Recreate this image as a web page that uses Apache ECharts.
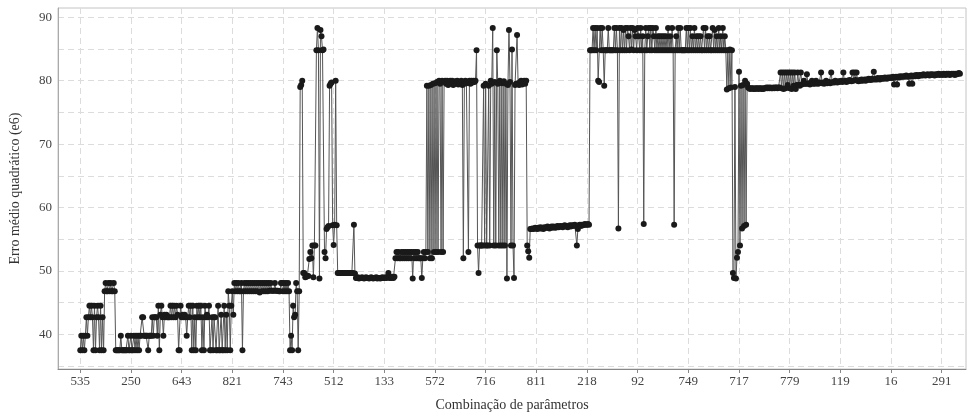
<!DOCTYPE html>
<html>
<head>
<meta charset="utf-8">
<script src="https://cdn.jsdelivr.net/npm/echarts@6/dist/echarts.min.js"></script>
<style>
html,body{margin:0;padding:0;background:#fff;}
#chart{width:977px;height:417px;}
</style>
</head>
<body>
<div id="chart"></div>
<script>
// Tick labels (parameter combination ids), one every 50 points
const tickLabels = ['535','250','643','821','743','512','133','572','716','811','218','92','749','717','779','119','16','291'];
const tickStep = 50;
const yLabelValues = [40, 50, 60, 70, 80, 90];
const yGridValues = [35, 40, 45, 50, 55, 60, 65, 70, 75, 80, 85, 90];

// Mean squared error (e6) for each parameter combination, in plotted order
const mse = [
// 0-49
37.5,39.8,37.5,39.8,37.5,39.8,42.7,39.8,42.7,44.5,
42.7,44.5,42.7,37.5,44.5,37.5,42.7,44.5,42.7,37.5,
44.5,37.5,42.7,37.5,46.8,48.1,46.8,46.8,48.1,46.8,
48.1,46.8,46.8,48.1,46.8,37.5,37.5,37.5,37.5,37.5,
39.8,37.5,37.5,37.5,37.5,37.5,37.5,39.8,37.5,37.5,
// 50-99
39.8,37.5,37.5,39.8,37.5,39.8,37.5,39.8,37.5,39.8,
39.8,42.7,42.7,39.8,39.8,39.8,39.8,37.5,39.8,39.8,
39.8,42.7,39.8,42.7,42.7,42.7,39.8,44.5,37.5,43.1,
44.5,42.7,39.8,43.1,42.7,43.1,42.7,42.7,42.7,44.5,
42.7,44.5,42.7,44.5,42.7,44.5,43.1,37.5,37.5,44.5,
// 100-149
42.7,43.1,42.7,43.1,42.7,39.8,42.7,44.5,42.7,44.5,
37.5,44.5,37.5,42.7,37.5,44.5,42.7,44.5,42.7,44.5,
37.5,42.7,37.5,44.5,42.7,43.1,42.7,44.5,37.5,37.5,
42.7,37.5,42.7,42.7,37.5,37.5,44.5,37.5,37.5,43.1,
37.5,37.5,44.5,37.5,43.1,37.5,46.8,44.5,37.5,44.5,
// 150-199
46.8,43.1,48.1,46.8,48.1,46.8,48.1,46.8,46.8,48.1,
37.5,46.8,48.1,46.8,48.1,46.8,48.1,46.8,48.1,46.8,
48.1,46.8,48.1,46.8,48.1,46.8,48.1,46.6,48.1,46.8,
48.1,46.8,48.1,46.8,48.1,46.8,48.1,46.9,48.1,46.9,
46.9,46.9,48.1,46.9,46.9,46.9,46.8,46.8,48.1,48.1,
// 200-249
46.8,48.1,46.8,48.1,46.8,48.1,46.8,37.5,39.8,37.5,
44.5,42.7,43.1,48.1,46.8,37.5,46.8,79.0,79.3,80.0,
49.7,49.7,49.0,49.1,49.2,49.2,51.9,53.0,52.0,54.0,
49.0,54.0,54.0,84.8,88.3,84.8,48.8,88.0,87.0,84.8,
84.9,53.0,52.0,56.6,56.9,57.1,79.2,79.5,79.7,57.2,
// 250-299
54.1,57.3,80.0,57.2,49.7,49.7,49.7,49.7,49.7,49.7,
49.7,49.7,49.7,49.7,49.7,49.7,49.7,49.7,49.7,49.7,
57.3,49.6,48.9,48.9,49.0,48.8,48.9,48.9,49.0,48.9,
48.8,48.9,49.0,48.9,48.9,48.8,48.9,49.0,48.9,48.8,
48.9,48.9,49.0,48.8,48.9,48.9,48.8,48.9,49.0,48.9,
// 300-349
48.9,49.0,48.9,49.0,49.7,48.9,49.0,48.9,49.1,48.9,
49.1,52.0,53.0,52.0,53.0,52.0,52.0,53.0,52.0,53.0,
52.0,53.0,52.0,53.0,52.0,53.0,52.0,53.0,48.8,53.0,
52.0,53.0,52.0,53.0,52.0,52.0,52.0,48.9,52.0,53.0,
52.0,53.0,79.2,53.0,79.2,52.0,79.3,52.0,79.5,53.0,
// 350-399
79.6,53.0,79.8,53.0,80.0,79.5,53.0,80.0,53.0,79.8,
80.0,79.5,80.0,79.3,79.8,80.0,79.5,80.0,79.3,79.5,
79.9,79.6,80.0,79.4,79.5,79.8,80.0,79.3,52.0,79.5,
80.0,79.6,79.8,53.0,80.0,79.5,80.0,79.7,80.0,79.8,
80.0,84.8,54.0,49.7,54.0,54.0,54.0,54.0,79.2,54.0,
// 400-449
79.5,54.0,54.0,79.2,54.0,80.0,79.5,88.3,54.0,79.8,
54.0,84.8,79.5,54.0,80.0,54.0,79.6,54.0,79.9,54.0,
79.5,48.8,79.3,88.0,79.8,54.0,84.9,54.0,48.9,79.3,
79.5,87.2,79.6,79.3,79.8,80.0,79.4,79.8,80.0,79.5,
80.0,54.0,53.1,52.1,56.6,56.6,56.7,56.6,56.7,56.8,
// 450-499
56.7,56.6,56.8,56.7,56.9,56.7,56.8,56.6,56.9,56.8,
56.8,57.0,56.8,56.7,56.9,57.0,56.8,57.0,56.9,56.8,
57.0,57.1,56.9,57.0,57.1,57.0,56.9,57.1,57.2,57.0,
57.1,56.9,57.1,57.2,57.0,57.2,57.1,57.2,57.3,57.1,
54.0,56.6,57.2,57.3,57.1,57.3,57.2,57.3,57.4,57.3,
// 500-549
57.3,57.4,57.3,84.8,84.8,84.8,88.3,84.8,88.3,84.8,
88.3,80.0,79.8,88.3,84.8,88.3,84.8,79.2,84.8,84.8,
84.8,88.3,84.8,84.8,84.8,84.8,84.8,88.3,84.8,88.3,
84.8,56.7,88.3,84.8,88.3,84.8,88.0,84.8,88.3,84.8,
88.3,87.0,84.8,88.3,84.9,88.3,84.8,88.0,87.0,84.8,
// 550-599
88.3,87.0,84.8,88.3,84.8,87.0,57.4,84.8,88.3,84.8,
87.0,88.3,84.8,88.3,84.8,88.3,87.0,84.8,88.3,84.8,
87.0,84.8,87.0,84.8,87.0,84.8,87.0,84.8,87.0,84.8,
88.3,84.8,87.0,84.8,88.3,84.8,57.3,84.8,87.0,84.8,
88.3,84.8,88.3,84.8,84.8,84.8,84.8,84.8,88.3,84.8,
// 600-649
88.3,84.8,88.3,84.8,87.0,84.8,88.3,84.8,87.0,84.8,
87.0,84.8,87.0,84.8,84.8,88.3,84.8,88.3,84.8,87.0,
84.8,87.0,84.8,84.8,88.3,84.8,88.0,84.8,87.0,84.8,
88.3,84.8,87.0,84.8,88.3,84.8,87.0,84.8,78.6,84.8,
78.8,84.9,78.9,84.8,49.7,48.9,79.0,48.8,52.1,53.0,
// 650-699
81.4,54.0,79.2,56.7,79.3,57.1,80.0,57.3,79.5,78.9,
78.8,78.7,78.8,78.8,78.7,78.8,78.7,78.8,78.8,78.7,
78.8,78.8,78.7,78.8,78.7,78.8,78.8,78.9,78.8,78.9,
78.8,78.9,78.8,78.8,78.9,78.8,78.9,78.9,78.8,78.9,
78.9,81.3,78.8,81.3,78.7,81.3,78.8,81.3,79.3,81.3,
// 700-749
78.8,81.3,78.7,81.3,79.2,81.3,78.7,79.3,81.3,79.3,
79.2,81.3,79.4,79.5,80.0,79.5,79.5,81.0,79.5,79.6,
79.4,79.6,80.0,79.5,79.6,79.5,80.0,79.6,79.5,79.6,
79.7,81.3,79.6,79.7,79.5,79.7,80.0,79.6,79.7,79.8,
79.6,81.3,79.7,79.8,79.7,80.0,79.8,79.7,79.9,79.8,
// 750-799
79.9,80.0,79.8,81.3,79.9,80.0,79.8,80.0,79.9,80.1,
80.0,79.9,81.3,80.0,81.3,80.1,81.3,80.0,79.9,80.1,
80.0,80.2,80.0,80.1,80.2,80.0,80.2,80.1,80.3,80.2,
80.1,80.3,80.2,81.4,80.2,80.3,80.2,80.4,80.3,80.2,
80.4,80.3,80.4,80.3,80.5,80.4,80.3,80.5,80.4,80.5,
// 800-849
80.5,80.4,80.6,79.4,80.5,80.6,79.4,80.6,80.5,80.7,
80.6,80.6,80.7,80.6,80.7,80.8,80.6,80.7,79.5,80.7,
80.8,79.5,80.7,80.8,80.7,80.9,80.8,80.7,80.9,80.8,
80.9,80.8,81.0,80.9,80.8,80.9,81.0,80.9,80.8,81.0,
80.9,81.0,80.9,80.8,81.0,80.9,81.0,81.1,80.9,81.0,
// 850-868
81.0,80.9,81.1,81.0,80.9,81.1,81.0,81.1,80.9,81.0,
81.1,81.0,81.1,80.9,81.1,81.0,81.1,81.2,81.1
];

const tickPositions = tickLabels.map((_, k) => k * tickStep);
const seriesData = mse.map((v, i) => [i, v]);

const FONT = '"Liberation Serif", "DejaVu Serif", serif';
const chart = echarts.init(document.getElementById('chart'), null, {renderer: 'canvas'});
chart.setOption({
  animation: false,
  backgroundColor: '#ffffff',
  grid: {left: 55.5, right: 11, top: 8, bottom: 46, show: true, borderColor: '#c4c4c4', borderWidth: 1},
  xAxis: {
    type: 'value', min: -22, max: 874,
    name: 'Combinação de parâmetros', nameLocation: 'middle', nameGap: 29,
    nameTextStyle: {fontFamily: FONT, fontSize: 14, color: '#333'},
    axisLine: {show: true, onZero: false, lineStyle: {color: '#888', width: 1}},
    axisTick: {show: true, length: 4, customValues: tickPositions, lineStyle: {color: '#888'}},
    axisLabel: {customValues: tickPositions, formatter: v => tickLabels[Math.round(v / tickStep)], fontFamily: FONT, fontSize: 13, color: '#444', margin: 6},
    splitLine: {show: true, lineStyle: {color: '#dcdcdc', type: [6, 4], width: 1}}
  },
  yAxis: {
    type: 'value', min: 34.55, max: 91.45,
    name: 'Erro médio quadrático (e6)', nameLocation: 'middle', nameGap: 36, nameRotate: 90,
    nameTextStyle: {fontFamily: FONT, fontSize: 14, color: '#333'},
    axisLine: {show: true, onZero: false, lineStyle: {color: '#aaa'}},
    axisTick: {show: false, customValues: yGridValues},
    axisLabel: {customValues: yLabelValues, fontFamily: FONT, fontSize: 13, color: '#444', margin: 6},
    splitLine: {show: true, lineStyle: {color: '#dcdcdc', type: [6, 4], width: 1}}
  },
  series: [{
    type: 'line',
    data: seriesData,
    symbol: 'circle',
    symbolSize: 6,
    showSymbol: true,
    itemStyle: {color: '#1a1a1a'},
    lineStyle: {color: '#555555', width: 1},
    emphasis: {disabled: true}
  }]
});
</script>
</body>
</html>
